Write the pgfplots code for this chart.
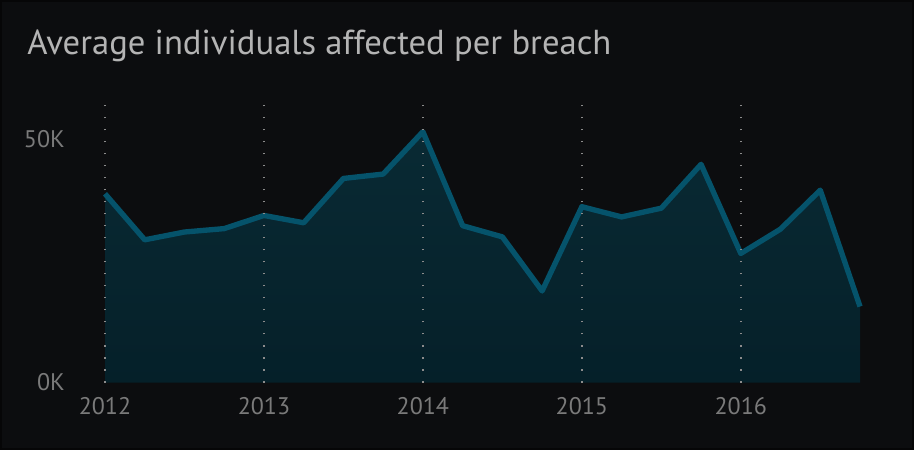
\documentclass[border=0pt]{standalone}
\usepackage{pgfplots}
\pgfplotsset{compat=1.18}
\usepackage{fontspec}
\setmainfont{PT Sans}
\definecolor{bg}{HTML}{0C0D0F}
\definecolor{frame}{HTML}{060607}
\definecolor{linec}{HTML}{05536B}
\definecolor{filltop}{HTML}{092A34}
\definecolor{fillbot}{HTML}{052029}
\definecolor{tickc}{HTML}{7A7A7A}
\definecolor{gridc}{HTML}{8C8C8C}
\definecolor{titlec}{HTML}{B4B4B4}
\begin{document}
\begin{tikzpicture}[x=1pt,y=1pt]
\fill[frame] (0,0) rectangle (685.5,337.5);
\fill[bg] (1.5,1.5) rectangle (684,336);
\node[anchor=base west, inner sep=0pt, text=titlec, font=\fontsize{26}{30}\selectfont] at (20.25,296.5) {Average individuals affected per breach};
\begin{axis}[
  at={(78.75pt,50.625pt)}, anchor=south west,
  scale only axis, width=566.25pt, height=215.5pt,
  xmin=2012, xmax=2016.75, ymin=0, ymax=59,
  clip=false,
  axis line style={draw=none},
  xtick={2012,2013,2014,2015,2016},
  xticklabels={2012,2013,2014,2015,2016},
  ytick={0,50}, yticklabels={0K,50K},
  /pgf/number format/assume math mode=true,
  tick style={draw=none},
  ticklabel style={text=tickc, font=\fontsize{18}{20}\selectfont, inner sep=0pt},
  xticklabel style={anchor=north, yshift=-11pt},
  yticklabel style={anchor=east, xshift=-30pt},
]
\addplot[draw=none, top color=filltop, bottom color=fillbot] coordinates {
(2012.00,38.75) (2012.25,29.3) (2012.50,30.9) (2012.75,31.6)
(2013.00,34.3) (2013.25,32.8) (2013.50,41.9) (2013.75,42.8)
(2014.00,51.5) (2014.25,32.2) (2014.50,29.9) (2014.75,18.8)
(2015.00,36.1) (2015.25,34.0) (2015.50,35.8) (2015.75,44.8)
(2016.00,26.5) (2016.25,31.5) (2016.50,39.5) (2016.75,15.6)
} \closedcycle;
\addplot[linec, line width=4pt, line join=round, mark=none] coordinates {
(2012.00,38.75) (2012.25,29.3) (2012.50,30.9) (2012.75,31.6)
(2013.00,34.3) (2013.25,32.8) (2013.50,41.9) (2013.75,42.8)
(2014.00,51.5) (2014.25,32.2) (2014.50,29.9) (2014.75,18.8)
(2015.00,36.1) (2015.25,34.0) (2015.50,35.8) (2015.75,44.8)
(2016.00,26.5) (2016.25,31.5) (2016.50,39.5) (2016.75,15.6)
};
\pgfplotsinvokeforeach{2012,2013,2014,2015,2016}{
  \draw[gridc, line width=1.3pt, dash pattern=on 1.3pt off 7.7pt] (axis cs:#1,0) -- (axis cs:#1,59);
}
\end{axis}
\end{tikzpicture}
\end{document}
